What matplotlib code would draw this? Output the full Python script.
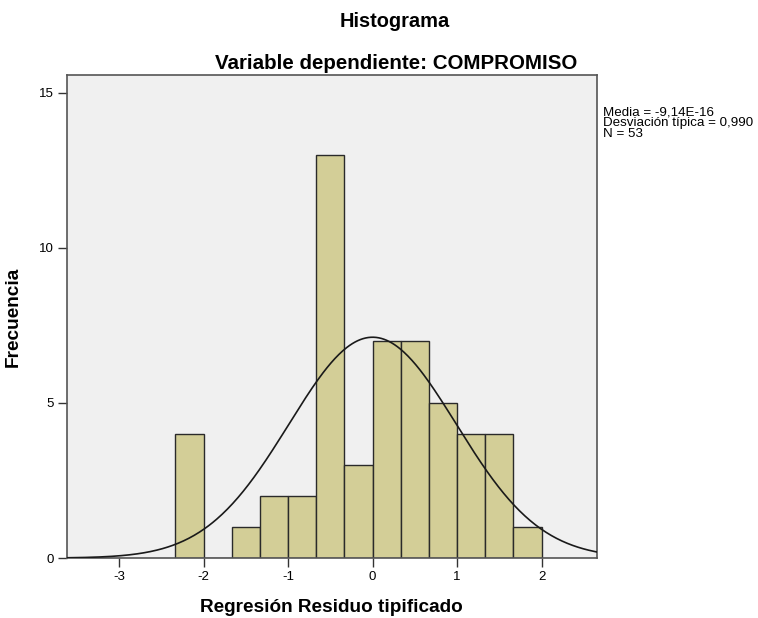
import numpy as np
import matplotlib
matplotlib.use('agg')
import matplotlib.pyplot as plt

# histogram counts (bin width 1/3)
bin_edges = [-7/3, -2, -5/3, -4/3, -1, -2/3, -1/3, 0, 1/3, 2/3, 1, 4/3, 5/3, 2]
counts = [4, 0, 1, 2, 2, 13, 3, 7, 7, 5, 4, 4, 1]
mean = -9.14e-16
std = 0.990
n = 53
x_ticks = [-3, -2, -1, 0, 1, 2]
y_ticks = [0, 5, 10, 15]
stats_lines = ['Media = -9,14E-16', 'Desviación típica = 0,990', 'N = 53']

plt.rcParams['font.family'] = ['Liberation Sans', 'DejaVu Sans']
plt.rcParams['axes.unicode_minus'] = False

fig = plt.figure(figsize=(7.58, 6.18), dpi=100)
ax = fig.add_axes([0.088, 0.097, 0.699, 0.782])
ax.set_facecolor('#f0f0f0')

edges = np.array(bin_edges)
widths = np.diff(edges)
ax.bar(edges[:-1], counts, width=widths, align='edge', color='#d3ce97',
       edgecolor='#2a2a2a', linewidth=1.0, zorder=2)

# normal curve scaled to counts
xs = np.linspace(-3.62, 2.65, 400)
bw = 1 / 3
ys = n * bw / (std * np.sqrt(2 * np.pi)) * np.exp(-0.5 * ((xs - mean) / std) ** 2)
ax.plot(xs, ys, color='#1a1a1a', linewidth=1.2, zorder=3)

ax.set_xlim(-3.62, 2.65)
ax.set_ylim(0, 15.58)
ax.set_xticks(x_ticks)
ax.set_yticks(y_ticks)
ax.tick_params(direction='out', length=6.5, width=1.0, labelsize=9.5, color='#333333', pad=3)
for s in ax.spines.values():
    s.set_color('#555555')
    s.set_linewidth(1.2)

ax.set_xlabel('Regresión Residuo tipificado', fontsize=13.7, fontweight='bold', labelpad=11)
ax.set_ylabel('Frecuencia', fontsize=13.7, fontweight='bold', labelpad=12)

fig.text(0.521, 0.966, 'Histograma', ha='center', va='center', fontsize=14.4, fontweight='bold')
fig.text(0.523, 0.898, 'Variable dependiente: COMPROMISO', ha='center', va='center',
         fontsize=14.8, fontweight='bold')

# summary lines, one text per line so the spacing is exact
for i, line in enumerate(stats_lines):
    fig.text(0.795, 0.813 - i * 0.017, line, ha='left', va='baseline', fontsize=9.6)

plt.savefig('out.png', dpi=100)
